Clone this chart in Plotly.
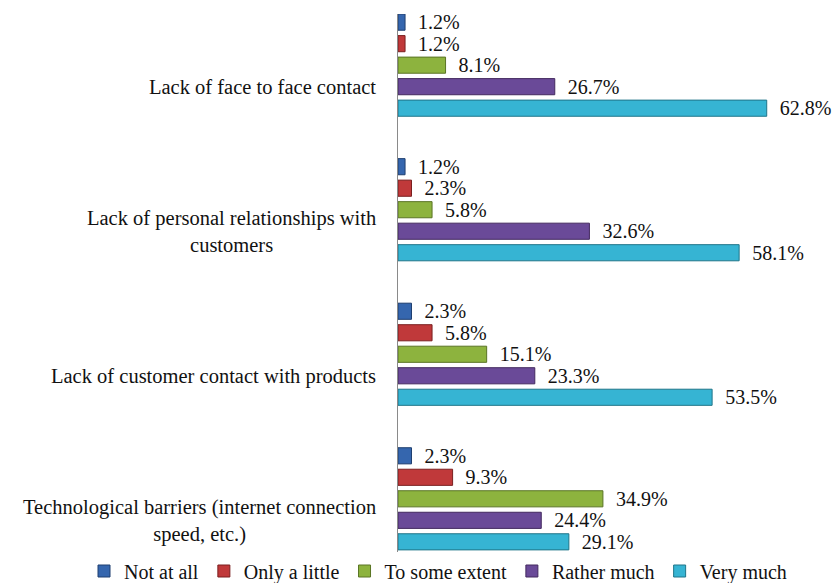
import plotly.graph_objects as go

categories = [
    "Lack of face to face contact",
    "Lack of personal relationships with<br>customers",
    "Lack of customer contact with products",
    "Technological barriers (internet connection<br>speed, etc.)",
]
series_names = ["Not at all", "Only a little", "To some extent", "Rather much", "Very much"]
not_at_all = [1.2, 1.2, 2.3, 2.3]
only_a_little = [1.2, 2.3, 5.8, 9.3]
to_some_extent = [8.1, 5.8, 15.1, 34.9]
rather_much = [26.7, 32.6, 23.3, 24.4]
very_much = [62.8, 58.1, 53.5, 29.1]
series_values = [not_at_all, only_a_little, to_some_extent, rather_much, very_much]

colors = ["#3566AE", "#C0393A", "#8DB33E", "#6A4A98", "#36B4D3"]
edges = ["#1F3F70", "#7A1F1F", "#5A7424", "#43295F", "#1F7589"]

FONT = "Liberation Serif"

fig = go.Figure()
for name, vals, c, e in zip(series_names, series_values, colors, edges):
    fig.add_trace(go.Bar(
        y=categories, x=vals, name=name, orientation="h",
        marker=dict(color=c, line=dict(color=e, width=1)),
        text=vals, texttemplate="\u00a0\u00a0%{x:.1f}%", textposition="outside",
        constraintext="none", cliponaxis=False,
        textfont=dict(family=FONT, size=20, color="#111111"),
    ))

annotations = []
for cat in categories:
    annotations.append(dict(
        x=0, xref="paper", y=cat, yref="y", xanchor="right", yanchor="middle",
        xshift=-20, yshift=-22, text=cat, showarrow=False, align="center",
        font=dict(family=FONT, size=20.5, color="#111111"),
    ))

fig.update_layout(
    width=834, height=583,
    margin=dict(l=398, r=25, t=14, b=31, autoexpand=False),
    paper_bgcolor="white", plot_bgcolor="white",
    barmode="group", bargap=0.256, bargroupgap=0.25,
    showlegend=True,
    legend=dict(orientation="h", xref="paper", yref="paper",
                x=(84 - 398) / 411, xanchor="left", y=-(571 - 552) / 538, yanchor="middle",
                font=dict(family=FONT, size=20, color="#111111"),
                traceorder="normal", bgcolor="rgba(0,0,0,0)"),
    annotations=annotations,
    font=dict(family=FONT),
)
fig.update_xaxes(range=[0, 70], showgrid=False, zeroline=False, showticklabels=False,
                 showline=False, ticks="")
fig.update_yaxes(type="category", categoryorder="array", categoryarray=categories,
                 range=[3.368, -0.354], showticklabels=False, showgrid=False,
                 showline=True, linecolor="#8a8a8a", linewidth=1, ticks="", zeroline=False)

fig.write_html("out.html")
